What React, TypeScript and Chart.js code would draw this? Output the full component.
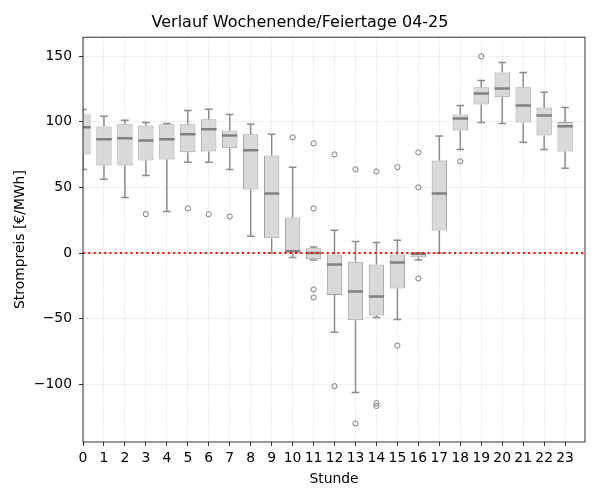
import React, { useEffect, useRef } from "react";
import { Chart, registerables } from "chart.js";

Chart.register(...registerables);

// Hour of day (x positions of the boxes)
const hours = [0, 1, 2, 3, 4, 5, 6, 7, 8, 9, 10, 11, 12, 13, 14, 15, 16, 17, 18, 19, 20, 21, 22, 23];

// Box statistics per hour in €/MWh
const q1 = [75.2, 66.7, 66.7, 70.6, 71.4, 76.9, 77.4, 79.9, 48.5, 11.3, 0.3, -4.6, -32.0, -51.1, -47.5, -26.9, -3.2, 17.3, 93.5, 113.3, 118.7, 99.6, 89.7, 77.5];
const median = [95.8, 86.7, 87.5, 85.8, 86.7, 90.5, 94.4, 89.7, 78.4, 45.5, 1.5, 0.0, -8.6, -29.2, -33.0, -7.1, -0.5, 45.5, 102.6, 121.7, 125.5, 112.5, 104.9, 96.6];
const q3 = [105.7, 96.4, 98.2, 97.3, 98.1, 98.1, 101.9, 93.5, 90.5, 74.3, 27.2, 3.8, -1.0, -6.6, -8.6, -1.0, 0.3, 70.6, 105.7, 126.3, 137.7, 126.3, 111.0, 99.8];
const whiskerLow = [63.8, 56.2, 42.4, 59.2, 31.7, 69.3, 69.3, 63.8, 12.9, 0.1, -3.3, -5.3, -60.2, -106.2, -49.0, -50.6, -5.3, 0.0, 79.0, 99.6, 98.8, 84.4, 79.0, 64.6];
const whiskerHigh = [109.5, 104.2, 101.2, 99.6, 98.8, 108.7, 109.6, 105.7, 98.2, 90.6, 65.4, 4.6, 17.5, 8.9, 8.1, 9.9, 0.3, 89.2, 112.5, 131.6, 145.3, 137.7, 122.5, 111.0];

// Outliers per hour
const outliers: number[][] = [
  [], [], [], [29.7], [], [34.0], [29.6], [27.9], [], [], [88.2],
  [83.6, 34.0, -27.7, -33.8], [75.2, -101.4], [63.8, -129.8], [62.2, -114.3, -116.4],
  [65.5, -70.4], [76.7, 50.1, -19.3], [], [69.9], [149.9], [], [], [], [],
];

const yTicks = [-100, -50, 0, 50, 100, 150];
const xTicks = hours;
const zeroLevel = 0;

const FONT = "'DejaVu Sans', sans-serif";
const BOX_FILL = "#d9d9d9";
const BOX_EDGE = "#a0a0a0";
const WHISKER = "#8c8c8c";
const MEDIAN = "#808080";

const boxDetails = {
  id: "boxDetails",
  beforeDatasetsDraw(chart: any) {
    const { ctx, chartArea, scales } = chart;
    const xs = scales.x;
    const ys = scales.y;
    const bars = chart.getDatasetMeta(0).data;
    ctx.save();
    ctx.beginPath();
    ctx.rect(chartArea.left, chartArea.top, chartArea.right - chartArea.left, chartArea.bottom - chartArea.top);
    ctx.clip();
    ctx.strokeStyle = WHISKER;
    ctx.lineWidth = 1.5;
    hours.forEach((h, i) => {
      const x = xs.getPixelForValue(h);
      const capHalf = bars[i].width / 4;
      const yHi = ys.getPixelForValue(whiskerHigh[i]);
      const yLo = ys.getPixelForValue(whiskerLow[i]);
      ctx.beginPath();
      ctx.moveTo(x, ys.getPixelForValue(q3[i]));
      ctx.lineTo(x, yHi);
      ctx.moveTo(x, ys.getPixelForValue(q1[i]));
      ctx.lineTo(x, yLo);
      ctx.moveTo(x - capHalf, yHi);
      ctx.lineTo(x + capHalf, yHi);
      ctx.moveTo(x - capHalf, yLo);
      ctx.lineTo(x + capHalf, yLo);
      ctx.stroke();
    });
    ctx.restore();
  },
  afterDatasetsDraw(chart: any) {
    const { ctx, chartArea, scales } = chart;
    const xs = scales.x;
    const ys = scales.y;
    const bars = chart.getDatasetMeta(0).data;
    ctx.save();
    ctx.beginPath();
    ctx.rect(chartArea.left, chartArea.top, chartArea.right - chartArea.left, chartArea.bottom - chartArea.top);
    ctx.clip();
    // medians
    ctx.strokeStyle = MEDIAN;
    ctx.lineWidth = 2.5;
    hours.forEach((h, i) => {
      const x = xs.getPixelForValue(h);
      const half = bars[i].width / 2;
      const y = ys.getPixelForValue(median[i]);
      ctx.beginPath();
      ctx.moveTo(x - half, y);
      ctx.lineTo(x + half, y);
      ctx.stroke();
    });
    // dotted zero line
    const y0 = ys.getPixelForValue(zeroLevel);
    ctx.strokeStyle = "#ff0000";
    ctx.lineWidth = 2;
    ctx.setLineDash([2, 3.3]);
    ctx.beginPath();
    ctx.moveTo(chartArea.left, y0);
    ctx.lineTo(chartArea.right, y0);
    ctx.stroke();
    ctx.restore();
  },
  afterDraw(chart: any) {
    const { ctx, chartArea } = chart;
    ctx.save();
    ctx.strokeStyle = "#000";
    ctx.lineWidth = 0.8;
    ctx.strokeRect(chartArea.left, chartArea.top, chartArea.right - chartArea.left, chartArea.bottom - chartArea.top);
    ctx.restore();
  },
};

const fmt = (v: number) => (v < 0 ? "\u2212" + Math.abs(v) : String(v));

export default function App() {
  const ref = useRef<HTMLCanvasElement>(null);

  useEffect(() => {
    const canvas = ref.current;
    if (!canvas) return;

    const boxData = hours.map((h, i) => ({ x: h, y: [q1[i], q3[i]] }));
    const outlierData: { x: number; y: number }[] = [];
    outliers.forEach((vals, i) => vals.forEach((v) => outlierData.push({ x: hours[i], y: v })));

    const chart = new Chart(canvas, {
      type: "bar",
      data: {
        datasets: [
          {
            type: "bar",
            data: boxData as any,
            backgroundColor: BOX_FILL,
            borderColor: BOX_EDGE,
            borderWidth: 1,
            borderSkipped: false,
            barPercentage: 0.73,
            categoryPercentage: 1,
            clip: 0,
          } as any,
          {
            type: "scatter",
            data: outlierData,
            pointStyle: "circle",
            pointRadius: 2.6,
            pointBorderWidth: 1,
            pointBorderColor: "#7a7a7a",
            pointBackgroundColor: "rgba(0,0,0,0)",
            clip: 0,
          } as any,
        ],
      },
      options: {
        responsive: false,
        devicePixelRatio: 1,
        animation: false,
        events: [],
        layout: { padding: { left: 15, right: 15, top: 0, bottom: 0 } },
        plugins: {
          legend: { display: false },
          tooltip: { enabled: false },
          title: {
            display: true,
            text: "Verlauf Wochenende/Feiertage 04-25",
            color: "#000",
            font: { family: FONT, size: 16, weight: "normal" },
            padding: { top: 13, bottom: 5 },
          },
        },
        scales: {
          x: {
            type: "linear",
            min: 0,
            max: 23.95,
            offset: false,
            afterBuildTicks: (scale: any) => {
              scale.ticks = xTicks.map((v) => ({ value: v }));
            },
            afterFit: (scale: any) => {
              scale.height = 58;
            },
            ticks: {
              color: "#000",
              font: { family: FONT, size: 13.9 },
              autoSkip: false,
              maxRotation: 0,
              padding: 4,
              callback: (v: any) => String(v),
            },
            grid: {
              offset: false,
              color: "#cfcfcf",
              lineWidth: 0.8,
              tickColor: "#000",
              tickLength: 4,
              tickWidth: 0.8,
            },
            border: { display: false, dash: [0.8, 1.32] },
            title: {
              display: true,
              text: "Stunde",
              color: "#000",
              font: { family: FONT, size: 13.9 },
              padding: { top: 0, bottom: 12.5 },
            },
          },
          y: {
            type: "linear",
            min: -143.9,
            max: 164.5,
            afterBuildTicks: (scale: any) => {
              scale.ticks = yTicks.map((v) => ({ value: v }));
            },
            afterFit: (scale: any) => {
              scale.width = 68;
            },
            ticks: {
              color: "#000",
              font: { family: FONT, size: 13.9 },
              padding: 7,
              callback: (v: any) => fmt(Number(v)),
            },
            grid: {
              color: "#cfcfcf",
              lineWidth: 0.8,
              tickColor: "#000",
              tickLength: 4,
              tickWidth: 0.8,
            },
            border: { display: false, dash: [0.8, 1.32] },
            title: {
              display: true,
              text: "Strompreis [€/MWh]",
              color: "#000",
              font: { family: FONT, size: 13.9 },
              padding: { top: -3.3, bottom: 0 },
            },
          },
        },
      } as any,
      plugins: [boxDetails],
    });

    return () => chart.destroy();
  }, []);

  return (
    <div style={{ position: "fixed", left: 0, top: 0, width: 600, height: 500, background: "#fff" }}>
      <canvas ref={ref} width={600} height={500} style={{ display: "block" }} />
    </div>
  );
}
